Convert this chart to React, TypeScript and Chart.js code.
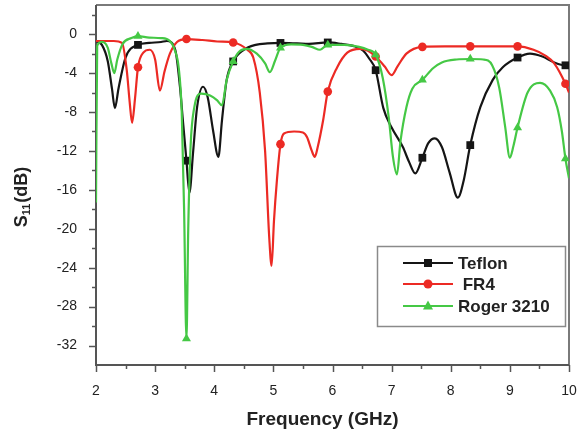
import React, { useEffect, useRef } from "react";
import { Chart, registerables } from "chart.js";

Chart.register(...registerables);

// ---- data ----
const X_TICKS = [2, 3, 4, 5, 6, 7, 8, 9, 10];
const Y_TICKS = [-32, -28, -24, -20, -16, -12, -8, -4, 0];
const MARKER_X = [2.71, 3.53, 4.32, 5.12, 5.92, 6.73, 7.52, 8.33, 9.13, 9.94];

const SERIES_NAMES = ["Teflon", " FR4", "Roger 3210"];

const TEFLON_X = [2.0, 2.1, 2.2, 2.27, 2.32, 2.38, 2.5, 2.71, 2.9, 3.1, 3.2, 3.34, 3.42, 3.47, 3.53, 3.58, 3.64, 3.71, 3.81, 3.89, 3.98, 4.07, 4.13, 4.21, 4.32, 4.5, 4.7, 4.9, 5.12, 5.4, 5.6, 5.92, 6.15, 6.35, 6.52, 6.62, 6.73, 6.86, 7.0, 7.19, 7.3, 7.4, 7.52, 7.62, 7.73, 7.85, 7.98, 8.12, 8.22, 8.33, 8.5, 8.71, 8.88, 9.13, 9.34, 9.55, 9.75, 9.94, 10.0];
const TEFLON_Y = [-0.7, -1.1, -2.8, -5.6, -7.6, -5.6, -2.4, -1.1, -0.9, -0.8, -0.7, -1.6, -5.4, -8.9, -13.0, -16.3, -12.3, -7.5, -5.4, -6.5, -9.9, -12.6, -8.9, -4.7, -2.8, -1.6, -1.1, -0.95, -0.9, -0.95, -1.0, -0.85, -1.0, -1.2, -1.7, -2.5, -3.7, -7.6, -9.6, -11.6, -13.2, -14.3, -12.7, -11.2, -10.7, -11.6, -14.2, -16.8, -15.0, -11.4, -7.5, -4.7, -3.4, -2.4, -2.0, -2.3, -2.9, -3.2, -3.2];

const FR4_X = [2.0, 2.3, 2.44, 2.52, 2.57, 2.61, 2.66, 2.71, 2.8, 2.91, 3.0, 3.08, 3.16, 3.25, 3.37, 3.53, 3.8, 4.05, 4.32, 4.44, 4.56, 4.66, 4.77, 4.86, 4.93, 4.97, 5.01, 5.06, 5.12, 5.18, 5.35, 5.5, 5.57, 5.65, 5.7, 5.75, 5.84, 5.92, 6.08, 6.25, 6.47, 6.6, 6.73, 6.88, 7.0, 7.1, 7.25, 7.52, 7.9, 8.33, 8.7, 9.13, 9.4, 9.6, 9.75, 9.94, 10.0];
const FR4_Y = [-0.7, -0.7, -0.9, -3.7, -7.0, -9.1, -6.6, -3.4, -1.9, -1.6, -2.6, -5.8, -3.8, -2.0, -0.8, -0.5, -0.6, -0.75, -0.85, -1.1, -1.6, -2.4, -6.0, -12.0, -20.9, -23.8, -19.2, -15.0, -11.3, -10.2, -10.0, -10.1, -10.6, -12.0, -12.6, -11.6, -8.9, -5.9, -3.4, -1.9, -1.5, -1.7, -2.3, -3.3, -4.2, -3.3, -2.0, -1.3, -1.25, -1.25, -1.25, -1.25, -1.6, -2.2, -3.0, -5.1, -6.0];

const ROGER_X = [2.0, 2.02, 2.1, 2.2, 2.26, 2.31, 2.36, 2.45, 2.6, 2.71, 2.9, 3.1, 3.25, 3.33, 3.4, 3.45, 3.49, 3.53, 3.56, 3.6, 3.66, 3.78, 3.93, 4.05, 4.13, 4.21, 4.32, 4.42, 4.55, 4.72, 4.86, 4.94, 5.03, 5.12, 5.3, 5.5, 5.65, 5.79, 5.92, 6.2, 6.45, 6.6, 6.73, 6.85, 6.95, 7.02, 7.09, 7.15, 7.25, 7.35, 7.52, 7.7, 7.85, 8.1, 8.33, 8.55, 8.7, 8.82, 8.92, 9.0, 9.06, 9.13, 9.3, 9.51, 9.68, 9.8, 9.88, 9.94, 10.0];
const ROGER_Y = [-17.3, -1.2, -0.8, -1.4, -3.0, -4.0, -2.6, -1.0, -0.4, -0.2, -0.35, -0.4, -0.7, -1.6, -3.5, -8.0, -18.0, -31.3, -20.0, -11.5, -7.6, -6.1, -6.3, -6.8, -7.3, -4.7, -2.8, -1.8, -1.5, -2.0, -3.0, -3.9, -2.7, -1.4, -1.05, -1.1, -1.3, -1.6, -1.1, -1.1, -1.3, -1.6, -2.1, -4.5, -8.5, -12.5, -14.4, -11.0, -7.5, -5.6, -4.7, -3.5, -2.9, -2.6, -2.55, -2.6, -3.2, -5.5, -9.5, -12.7, -11.5, -9.6, -6.0, -5.0, -5.8, -7.5, -10.0, -12.8, -14.8];

const COLORS = ["#151515", "#ec2a24", "#45c845"];
const MARKERS = ["rect", "circle", "triangle"];
const MARKER_R = [5.5, 4.3, 5.2];

const FONT = "'Liberation Sans', Arial, sans-serif";

function toPoints(xs: number[], ys: number[]) {
  return xs.map((x, i) => ({ x, y: ys[i] }));
}

const decorPlugin = {
  id: "decor",
  beforeDatasetsDraw(chart: any) {
    const ctx = chart.ctx as CanvasRenderingContext2D;
    const { left, right, top, bottom } = chart.chartArea;
    const xs = chart.scales.x;
    const ys = chart.scales.y;
    ctx.save();
    // frame
    ctx.lineWidth = 2;
    ctx.strokeStyle = "#7a7a7a";
    ctx.beginPath();
    ctx.moveTo(left, top);
    ctx.lineTo(right, top);
    ctx.lineTo(right, bottom);
    ctx.stroke();
    ctx.strokeStyle = "#555";
    ctx.beginPath();
    ctx.moveTo(left, top);
    ctx.lineTo(left, bottom);
    ctx.lineTo(right, bottom);
    ctx.stroke();
    // ticks
    ctx.lineWidth = 1.5;
    ctx.strokeStyle = "#555";
    for (let v = 2; v <= 10.001; v += 0.5) {
      const px = Math.round(xs.getPixelForValue(v)) + 0.5;
      const major = Math.abs(v - Math.round(v)) < 1e-6;
      ctx.beginPath();
      ctx.moveTo(px, bottom);
      ctx.lineTo(px, bottom + (major ? 7 : 4));
      ctx.stroke();
    }
    for (let v = -32; v <= 2.001; v += 2) {
      const py = Math.round(ys.getPixelForValue(v)) + 0.5;
      const major = v % 4 === 0;
      ctx.beginPath();
      ctx.moveTo(left, py);
      ctx.lineTo(left - (major ? 7 : 4), py);
      ctx.stroke();
    }
    ctx.restore();
  },
  afterDraw(chart: any) {
    const ctx = chart.ctx as CanvasRenderingContext2D;
    const { left, right } = chart.chartArea;
    ctx.save();
    // axis titles
    ctx.fillStyle = "#222";
    ctx.font = `bold 19px ${FONT}`;
    ctx.textAlign = "center";
    ctx.textBaseline = "middle";
    ctx.fillText("Frequency (GHz)", (left + right) / 2 - 10, 420);

    ctx.save();
    ctx.translate(22, 197);
    ctx.rotate(-Math.PI / 2);
    ctx.textBaseline = "middle";
    ctx.textAlign = "left";
    ctx.font = `bold 18px ${FONT}`;
    const sW = ctx.measureText("S").width;
    ctx.font = `bold 11px ${FONT}`;
    const subW = ctx.measureText("11").width;
    ctx.font = `bold 18px ${FONT}`;
    const restW = ctx.measureText("(dB)").width;
    const total = sW + subW + 1 + restW;
    let cx = -total / 2;
    ctx.fillText("S", cx, 0);
    cx += sW;
    ctx.font = `bold 11px ${FONT}`;
    ctx.fillText("11", cx, 5);
    cx += subW + 1;
    ctx.font = `bold 18px ${FONT}`;
    ctx.fillText("(dB)", cx, 0);
    ctx.restore();

    // legend
    const lx = 377.5, ly = 246.5, lw = 188, lh = 80;
    ctx.fillStyle = "#fff";
    ctx.fillRect(lx, ly, lw, lh);
    ctx.lineWidth = 1.5;
    ctx.strokeStyle = "#8a8a8a";
    ctx.strokeRect(lx, ly, lw, lh);
    const rows = [263, 284, 306];
    chart.data.datasets.forEach((ds: any, i: number) => {
      const y = rows[i];
      ctx.strokeStyle = COLORS[i];
      ctx.lineWidth = 2;
      ctx.beginPath();
      ctx.moveTo(403, y);
      ctx.lineTo(453, y);
      ctx.stroke();
      ctx.fillStyle = COLORS[i];
      ctx.beginPath();
      if (MARKERS[i] === "rect") {
        ctx.fillRect(424, y - 4, 8, 8);
      } else if (MARKERS[i] === "circle") {
        ctx.arc(428, y, 4.5, 0, Math.PI * 2);
        ctx.fill();
      } else {
        ctx.moveTo(428, y - 5.5);
        ctx.lineTo(433, y + 3.5);
        ctx.lineTo(423, y + 3.5);
        ctx.closePath();
        ctx.fill();
      }
      ctx.fillStyle = "#222";
      ctx.font = `bold 17px ${FONT}`;
      ctx.textAlign = "left";
      ctx.textBaseline = "middle";
      ctx.fillText(ds.label, 458, y + 1);
    });
    ctx.restore();
  },
};

export default function App() {
  const ref = useRef<HTMLCanvasElement | null>(null);
  useEffect(() => {
    if (!ref.current) return;
    const series = [
      toPoints(TEFLON_X, TEFLON_Y),
      toPoints(FR4_X, FR4_Y),
      toPoints(ROGER_X, ROGER_Y),
    ];
    const chart = new Chart(ref.current, {
      type: "line",
      data: {
        datasets: series.map((pts, i) => ({
          label: SERIES_NAMES[i],
          data: pts,
          borderColor: COLORS[i],
          backgroundColor: COLORS[i],
          borderWidth: 2.2,
          pointStyle: MARKERS[i] as any,
          pointRadius: (c: any) =>
            MARKER_X.includes(c.raw?.x) ? MARKER_R[i] : 0,
          pointBorderWidth: 0,
          cubicInterpolationMode: "monotone" as const,
          fill: false,
          order: 2 - i,
        })),
      },
      options: {
        animation: false,
        responsive: false,
        maintainAspectRatio: false,
        layout: { padding: { top: 5, right: 16, left: 0, bottom: 0 } },
        plugins: { legend: { display: false }, tooltip: { enabled: false } },
        scales: {
          x: {
            type: "linear",
            min: 2,
            max: 10,
            afterBuildTicks: (s: any) => {
              s.ticks = X_TICKS.map((v) => ({ value: v }));
            },
            afterFit: (s: any) => {
              s.height = 71;
              s.paddingLeft = 0;
              s.paddingRight = 0;
              s.paddingTop = 0;
              s.paddingBottom = 0;
            },
            grid: { drawOnChartArea: false, drawTicks: true, tickLength: 7, tickColor: "rgba(0,0,0,0)" },
            border: { display: false },
            ticks: {
              padding: 11,
              color: "#222",
              font: { family: FONT, size: 14 },
              maxRotation: 0,
              callback: (v: any) => String(v),
            },
          },
          y: {
            type: "linear",
            min: -34,
            max: 3,
            afterBuildTicks: (s: any) => {
              s.ticks = Y_TICKS.map((v) => ({ value: v }));
            },
            afterFit: (s: any) => {
              s.width = 96;
              s.paddingLeft = 0;
              s.paddingRight = 0;
              s.paddingTop = 0;
              s.paddingBottom = 0;
            },
            grid: { drawOnChartArea: false, drawTicks: true, tickLength: 7, tickColor: "rgba(0,0,0,0)" },
            border: { display: false },
            ticks: {
              padding: 12,
              color: "#222",
              font: { family: FONT, size: 14 },
              callback: (v: any) => String(v),
            },
          },
        },
      },
      plugins: [decorPlugin],
    });
    return () => chart.destroy();
  }, []);
  return (
    <div style={{ position: "fixed", left: 0, top: 0, width: 585, height: 436, background: "#fff" }}>
      <canvas ref={ref} width={585} height={436} style={{ width: 585, height: 436, display: "block" }} />
    </div>
  );
}
